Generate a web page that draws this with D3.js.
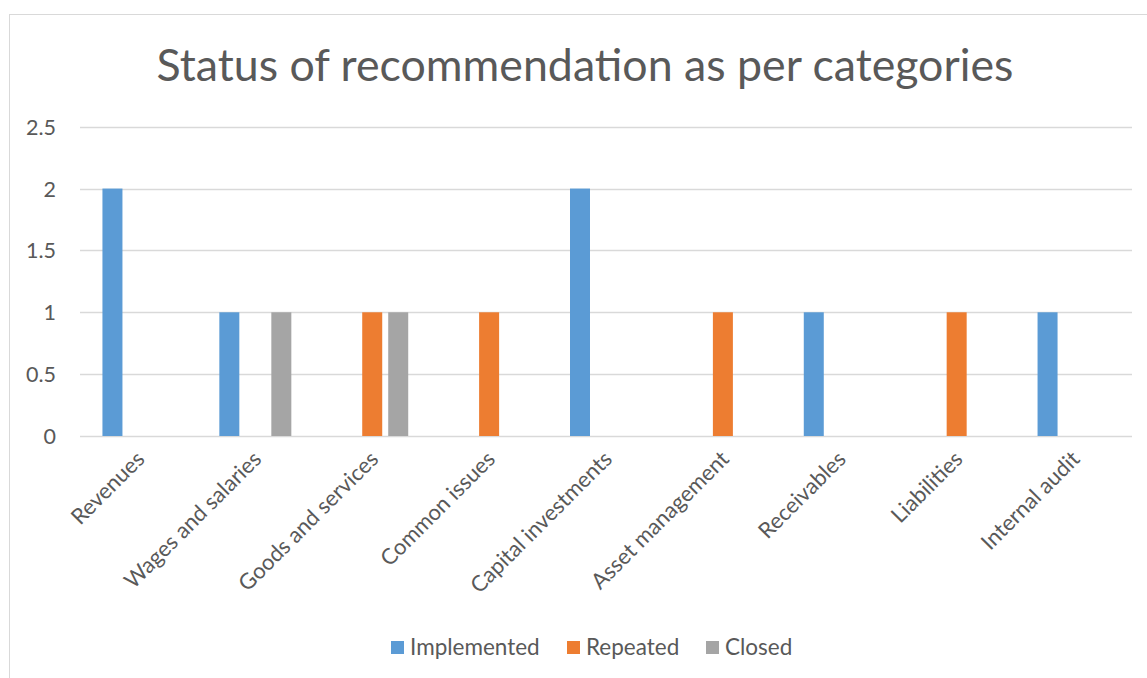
<!DOCTYPE html>
<html>
<head>
<meta charset="utf-8">
<script src="https://cdn.jsdelivr.net/npm/d3@7"></script>
<style>
  html, body { margin: 0; padding: 0; background: #fff; }
  svg { display: block; font-family: Lato, "Open Sans", sans-serif; }
</style>
</head>
<body>
<svg id="chart" width="1147" height="678"></svg>
<script>
const categories = ["Revenues", "Wages and salaries", "Goods and services", "Common issues",
  "Capital investments", "Asset management", "Receivables", "Liabilities", "Internal audit"];
const seriesNames = ["Implemented", "Repeated", "Closed"];
const implemented = [2, 1, 0, 0, 2, 0, 1, 0, 1];
const repeated    = [0, 0, 1, 1, 0, 1, 0, 1, 0];
const closed      = [0, 1, 1, 0, 0, 0, 0, 0, 0];
const yTicks = [0, 0.5, 1, 1.5, 2, 2.5];
const colors = ["#5B9BD5", "#ED7D31", "#A5A5A5"];
const title = "Status of recommendation as per categories";

const seriesValues = [implemented, repeated, closed];
const svg = d3.select("#chart");
const textColor = "#595959";

// chart border
svg.append("rect").attr("x", 9.5).attr("y", 14.5).attr("width", 1160).attr("height", 700)
  .attr("fill", "none").attr("stroke", "#D9D9D9").attr("stroke-width", 1);

const pL = 80, pR = 1132, pT = 126.7, pB = 436;
const x = d3.scaleBand().domain(categories).range([pL, pR]).paddingInner(0).paddingOuter(0);
const y = d3.scaleLinear().domain([0, 2.5]).range([pB, pT]);

// gridlines
svg.append("g").selectAll("line").data(yTicks).join("line")
  .attr("x1", pL).attr("x2", pR)
  .attr("y1", d => Math.round(y(d)) + 0.5).attr("y2", d => Math.round(y(d)) + 0.5)
  .attr("stroke", "#D9D9D9").attr("stroke-width", 1.3);

// y axis labels
const yAxis = svg.append("g").attr("transform", `translate(${pL - 24},0)`)
  .call(d3.axisLeft(y).tickValues(yTicks).tickSize(0).tickFormat(d3.format("")));
yAxis.select(".domain").remove();
yAxis.selectAll("text").attr("fill", textColor).attr("font-size", 21.5)
  .attr("font-family", "Lato, sans-serif").attr("x", 0).attr("dy", "0.35em");

// bars
const barW = 20, barStep = 26;
const groupWidth = barW * 3 + 6 * 2;
seriesValues.forEach((vals, si) => {
  svg.append("g").selectAll("rect").data(vals.map((v, i) => ({ v, c: categories[i] })).filter(d => d.v > 0))
    .join("rect")
    .attr("x", d => x(d.c) + x.bandwidth() / 2 - groupWidth / 2 + si * barStep)
    .attr("width", barW)
    .attr("y", d => y(d.v))
    .attr("height", d => y(0) - y(d.v))
    .attr("fill", colors[si]);
});

// x labels
const xAxis = svg.append("g").attr("transform", `translate(0,${pB})`)
  .call(d3.axisBottom(x).tickSize(0));
xAxis.select(".domain").remove();
xAxis.selectAll("text")
  .attr("fill", textColor).attr("font-size", 22).attr("font-family", "Lato, sans-serif")
  .attr("text-anchor", "end")
  .attr("transform", "translate(2,19) rotate(-45)")
  .attr("x", 0).attr("y", 0).attr("dy", "0.35em");

// title
svg.append("text").attr("x", 585).attr("y", 81).attr("text-anchor", "middle")
  .attr("font-size", 44.7).attr("fill", textColor).text(title);

// legend
const legendX = [391, 567, 706];
const lg = svg.append("g");
seriesNames.forEach((n, i) => {
  lg.append("rect").attr("x", legendX[i]).attr("y", 641).attr("width", 13).attr("height", 13)
    .attr("fill", colors[i]);
  lg.append("text").attr("x", legendX[i] + 19).attr("y", 647.5).attr("dy", "0.35em")
    .attr("font-size", 22.5).attr("fill", textColor).text(n);
});
</script>
</body>
</html>
